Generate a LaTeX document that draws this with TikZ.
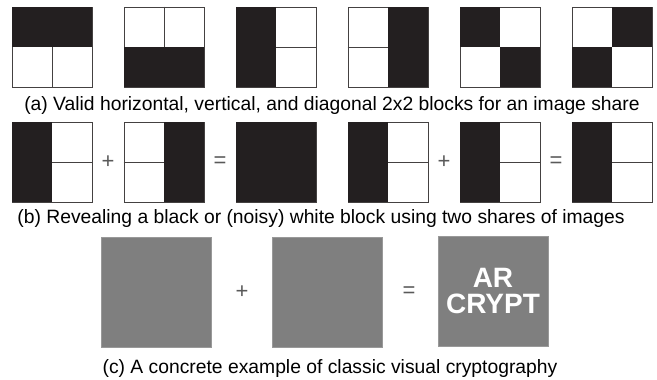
\documentclass[tikz,border=0pt]{standalone}
\usepackage{fontspec}
\setmainfont{Liberation Sans}
\usetikzlibrary{positioning}
\definecolor{ink}{HTML}{231F20}
\definecolor{noisegray}{HTML}{7F7F7F}

\begin{document}
\begin{tikzpicture}[
  x=1pt, y=-1pt,
  share/.style={draw=ink!85, line width=0.9pt, minimum size=80pt, inner sep=0pt},
  divide/.style={draw=ink!85, line width=0.9pt},
  ink fill/.style={fill=ink},
  grayshare/.style={fill=noisegray, draw=noisegray!80, line width=0.6pt, minimum size=110pt, inner sep=0pt},
  op/.style={font=\fontsize{22}{22}\selectfont, text=black!65},
  caption/.style={font=\fontsize{19.3}{19.3}\selectfont, anchor=base},
  secret/.style={font=\fontsize{28}{26}\selectfont\bfseries, text=white, align=center}
]
\useasboundingbox (0,0) rectangle (657,380);

% (a) valid blocks
\node[share] (a1) at (52,47) {};
\node[share] (a2) at (164,47) {};
\node[share] (a3) at (276,47) {};
\node[share] (a4) at (388,47) {};
\node[share] (a5) at (500,47) {};
\node[share] (a6) at (612,47) {};

\fill[ink fill] (a1.north west) rectangle (a1.east);
\draw[divide] (a1.center) -- (a1.south);
\fill[ink fill] (a2.west) rectangle (a2.south east);
\draw[divide] (a2.north) -- (a2.center);
\fill[ink fill] (a3.north west) rectangle (a3.south);
\draw[divide] (a3.center) -- (a3.east);
\fill[ink fill] (a4.north) rectangle (a4.south east);
\draw[divide] (a4.west) -- (a4.center);
\fill[ink fill] (a5.north west) rectangle (a5.center);
\fill[ink fill] (a5.center) rectangle (a5.south east);
\fill[ink fill] (a6.north) rectangle (a6.east);
\fill[ink fill] (a6.west) rectangle (a6.south);

\node[caption] (capa) at (332,110) {(a) Valid horizontal, vertical, and diagonal 2x2 blocks for an image share};

% (b) stacking two shares
\node[share] (b1) at (52,162) {};
\node[share] (b2) at (164,162) {};
\node[share] (b3) at (276,162) {};
\node[share] (b4) at (388,162) {};
\node[share] (b5) at (500,162) {};
\node[share] (b6) at (612,162) {};

\node[op] (plus1) at (108,162) {+};
\node[op] (eq1) at (220,162) {=};
\node[op] (plus2) at (444,162) {+};
\node[op] (eq2) at (556,162) {=};

\fill[ink fill] (b1.north west) rectangle (b1.south);
\draw[divide] (b1.center) -- (b1.east);
\fill[ink fill] (b2.north) rectangle (b2.south east);
\draw[divide] (b2.west) -- (b2.center);
\fill[ink fill] (b3.north west) rectangle (b3.south east);
\fill[ink fill] (b4.north west) rectangle (b4.south);
\draw[divide] (b4.center) -- (b4.east);
\fill[ink fill] (b5.north west) rectangle (b5.south);
\draw[divide] (b5.center) -- (b5.east);
\fill[ink fill] (b6.north west) rectangle (b6.south);
\draw[divide] (b6.center) -- (b6.east);

\node[caption] (capb) at (321,223) {(b) Revealing a black or (noisy) white block using two shares of images};

% (c) concrete example
\node[grayshare] (c1) at (156,292) {};
\node[grayshare] (c2) at (327,292) {};
\node[grayshare] (c3) at (493,291) {};
\node[op] (plus3) at (242,292) {+};
\node[op] (eq3) at (409,292) {=};
\node[secret] (word) at (c3) {AR\\CRYPT};

\node[caption] (capc) at (330,373) {(c) A concrete example of classic visual cryptography};
\end{tikzpicture}
\end{document}
